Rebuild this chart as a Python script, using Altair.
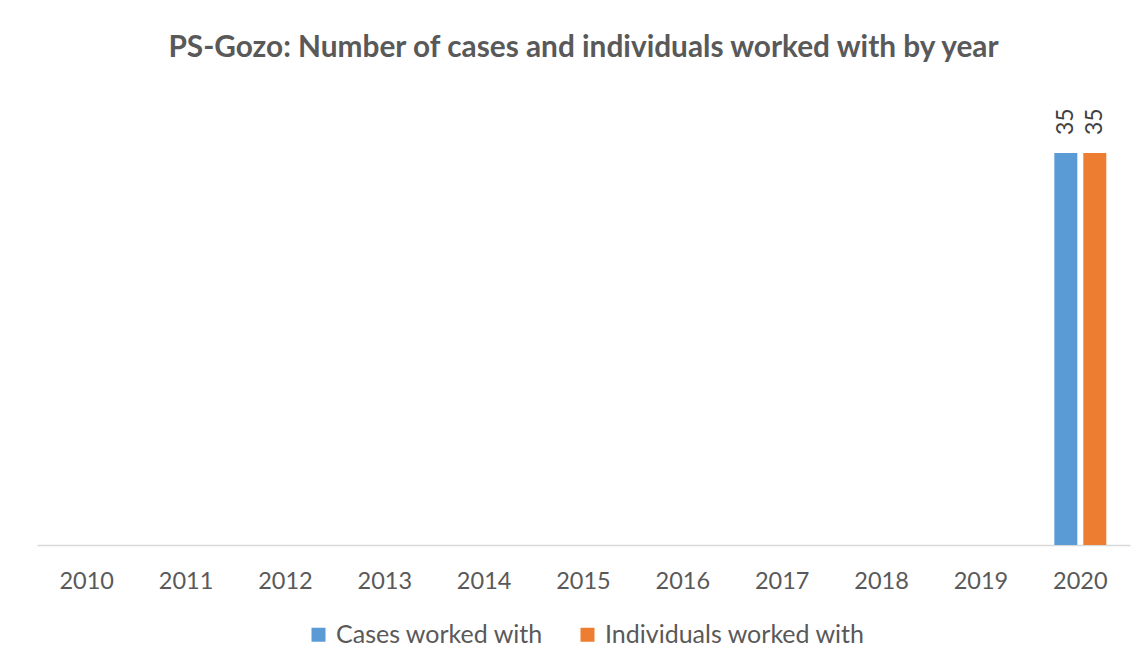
import altair as alt
import pandas as pd

years = ["2010", "2011", "2012", "2013", "2014", "2015", "2016", "2017", "2018", "2019", "2020"]
cases = [None, None, None, None, None, None, None, None, None, None, 35]
individuals = [None, None, None, None, None, None, None, None, None, None, 35]
series_names = ["Cases worked with", "Individuals worked with"]
colors = ["#5B9BD5", "#ED7D31"]

rows = []
for yr, c, i in zip(years, cases, individuals):
    rows.append({"year": yr, "series": series_names[0], "value": c})
    rows.append({"year": yr, "series": series_names[1], "value": i})
df = pd.DataFrame(rows)

FONT = "Lato"
TXT = "#595959"

x = alt.X(
    "year:N",
    scale=alt.Scale(domain=years, paddingInner=0.477, paddingOuter=0.2385),
    axis=alt.Axis(
        title=None, labelAngle=0, ticks=False, domainColor="#D9D9D9", domainWidth=1.5,
        labelPadding=24, labelFontSize=23.5, labelFont=FONT, labelColor=TXT, grid=False,
    ),
)
xo = alt.XOffset("series:N", scale=alt.Scale(domain=series_names, paddingInner=0.207))
y = alt.Y("value:Q", scale=alt.Scale(domain=[0, 40]), axis=None)
color = alt.Color(
    "series:N",
    scale=alt.Scale(domain=series_names, range=colors),
    legend=alt.Legend(
        orient="none", legendX=269, legendY=525, direction="horizontal", title=None,
        symbolType="square", symbolSize=196, symbolStrokeWidth=0, labelFontSize=25,
        labelFont=FONT, labelColor=TXT, columnPadding=31, labelOffset=5, labelLimit=0,
    ),
)

base = alt.Chart(df).transform_filter("isValid(datum.value)")
bars = base.mark_bar().encode(x=x, xOffset=xo, y=y, color=color)
labels = base.mark_text(
    angle=270, align="left", baseline="middle", dx=18, fontSize=23, font=FONT, color="#404040"
).encode(x=x, xOffset=xo, y=y, text=alt.Text("value:Q"))

chart = (
    alt.layer(bars, labels)
    .properties(
        width=1093,
        height=448,
        autosize="none",
        padding={"left": 29, "top": 89, "right": 7, "bottom": 110},
        background="white",
        title=alt.Title(
            "PS-Gozo: Number of cases and individuals worked with by year",
            fontSize=29.8, font=FONT, fontWeight="bold", color=TXT, anchor="middle", offset=34,
        ),
    )
    .configure_view(stroke=None)
)

chart.save("out.html", embed_options={"renderer": "svg", "actions": False})
